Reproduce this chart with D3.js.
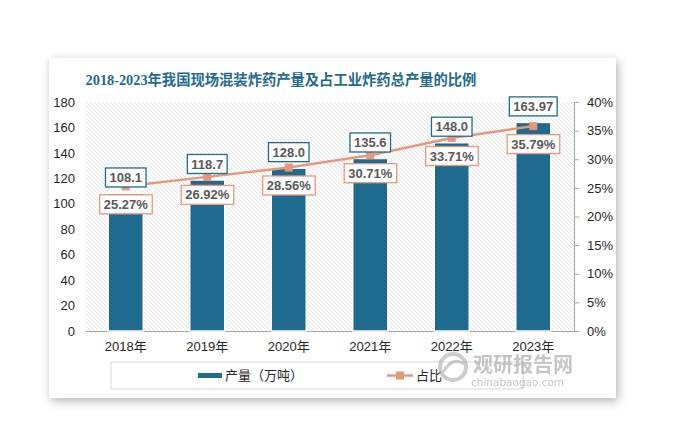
<!DOCTYPE html>
<html><head><meta charset="utf-8">
<script src="https://cdn.jsdelivr.net/npm/d3@7"></script>
<style>html,body{margin:0;padding:0;background:#fff;}svg{display:block;}</style>
</head><body>
<svg id="chart" width="673" height="445"></svg>
<script>
const categories = ["2018年","2019年","2020年","2021年","2022年","2023年"];
const production = [108.1, 118.7, 128.0, 135.6, 148.0, 163.97];
const productionLabels = ["108.1","118.7","128.0","135.6","148.0","163.97"];
const share = [25.27, 26.92, 28.56, 30.71, 33.71, 35.79];
const leftTicks = [0,20,40,60,80,100,120,140,160,180];
const rightTicks = [0,5,10,15,20,25,30,35,40];
const title = "2018-2023年我国现场混装炸药产量及占工业炸药总产量的比例";
const legendNames = ["产量（万吨）","占比"];

const barColor = "#1e6b8f", lineColor = "#e9977a", textColor = "#595959";
const svg = d3.select("#chart");
const defs = svg.append("defs");
const sh = defs.append("filter").attr("id","shadow").attr("x","-10%").attr("y","-10%").attr("width","120%").attr("height","120%");
sh.append("feDropShadow").attr("dx",2).attr("dy",3).attr("stdDeviation",5).attr("flood-color","#000").attr("flood-opacity",0.3);
const pat = defs.append("pattern").attr("id","hatch").attr("patternUnits","userSpaceOnUse").attr("width",4).attr("height",4);
pat.append("rect").attr("width",4).attr("height",4).attr("fill","#fff");
pat.append("path").attr("d","M-1,-1 L5,5 M-1,3 L1,5 M3,-1 L5,1").attr("stroke","#e0e0e0").attr("stroke-width",0.9);

// card
svg.append("rect").attr("x",49).attr("y",58).attr("width",567).attr("height",340).attr("fill","#fff").attr("filter","url(#shadow)");

const m = {left:85, right:574, top:102, bottom:331};
const x = d3.scaleBand().domain(categories).range([m.left, m.right]);
const yL = d3.scaleLinear().domain([0,180]).range([m.bottom, m.top]);
const yR = d3.scaleLinear().domain([0,40]).range([m.bottom, m.top]);

svg.append("rect").attr("x",m.left).attr("y",m.top).attr("width",m.right-m.left).attr("height",m.bottom-m.top).attr("fill","url(#hatch)");

svg.append("text").attr("x",281).attr("y",85).attr("text-anchor","middle")
  .attr("font-family","'Liberation Serif','Noto Sans CJK SC',serif").attr("font-weight","bold")
  .attr("font-size",14.3).attr("fill","#236a8c").text(title);

// left axis
const gL = svg.append("g").attr("transform",`translate(${m.left},0)`)
  .call(d3.axisLeft(yL).tickValues(leftTicks).tickSize(0).tickPadding(10));
gL.select(".domain").remove();
gL.selectAll("text").attr("font-family","'Liberation Sans',Arial,sans-serif").attr("font-size",13).attr("fill","#262626");

// right axis
const gR = svg.append("g").attr("transform",`translate(${m.right},0)`)
  .call(d3.axisRight(yR).tickValues(rightTicks).tickSize(5).tickPadding(8).tickFormat(d=>d+"%"));
gR.select(".domain").attr("stroke","#a6a6a6");
gR.selectAll("line").attr("stroke","#a6a6a6");
gR.selectAll("text").attr("font-family","'Liberation Sans',Arial,sans-serif").attr("font-size",13).attr("fill","#262626");

// bottom axis
const gB = svg.append("g").attr("transform",`translate(0,${m.bottom})`)
  .call(d3.axisBottom(x).tickSize(0).tickPadding(11));
gB.select(".domain").attr("stroke","#a6a6a6");
gB.selectAll("text").attr("font-family","'Liberation Sans','Noto Sans CJK SC',sans-serif").attr("font-size",13).attr("fill","#262626");

// bars
const bw = 35;
svg.append("g").selectAll("rect").data(production).join("rect")
  .attr("x",(d,i)=>x(categories[i])+x.bandwidth()/2-bw/2)
  .attr("y",d=>yL(d)).attr("width",bw).attr("height",d=>m.bottom-yL(d))
  .attr("fill",barColor).attr("stroke","#fff").attr("stroke-width",1.5);

// line
const cx = i => x(categories[i])+x.bandwidth()/2;
svg.append("path").datum(share)
  .attr("d",d3.line().x((d,i)=>cx(i)).y(d=>yR(d)))
  .attr("fill","none").attr("stroke",lineColor).attr("stroke-width",2.5);
svg.append("g").selectAll("rect").data(share).join("rect")
  .attr("x",(d,i)=>cx(i)-4).attr("y",d=>yR(d)-4).attr("width",8).attr("height",8).attr("fill",lineColor);

// labels
function label(g, xc, yc, txt, border){
  const t = g.append("text").attr("x",xc).attr("y",yc).attr("dy","0.35em").attr("text-anchor","middle")
    .attr("font-family","'Liberation Sans',Arial,sans-serif").attr("font-weight","bold").attr("font-size",13)
    .attr("fill",textColor).text(txt);
  const bb = t.node().getBBox();
  g.insert("rect","text").attr("x",bb.x-4).attr("y",yc-9.5).attr("width",bb.width+8).attr("height",19)
    .attr("fill","#fff").attr("stroke",border).attr("stroke-width",1.3);
}
share.forEach((d,i)=>{ const g=svg.append("g"); label(g,cx(i),yR(d)+18,d.toFixed(2)+"%",lineColor); });
production.forEach((d,i)=>{ const g=svg.append("g"); label(g,cx(i),yL(d)-16,productionLabels[i],barColor); });

// legend
svg.append("rect").attr("x",111).attr("y",362).attr("width",412).attr("height",27).attr("fill","#fff").attr("stroke","#d9d9d9");
svg.append("rect").attr("x",198).attr("y",373).attr("width",24).attr("height",5).attr("fill",barColor);
svg.append("text").attr("x",225).attr("y",380).attr("font-family","'Noto Sans CJK SC',sans-serif").attr("font-size",13).attr("fill","#262626").text(legendNames[0]);
svg.append("line").attr("x1",387).attr("x2",413).attr("y1",375.5).attr("y2",375.5).attr("stroke",lineColor).attr("stroke-width",2.5);
svg.append("rect").attr("x",396).attr("y",371.5).attr("width",8).attr("height",8).attr("fill",lineColor);
svg.append("text").attr("x",416).attr("y",380).attr("font-family","'Noto Sans CJK SC',sans-serif").attr("font-size",13).attr("fill","#262626").text(legendNames[1]);

// watermark
const wm = svg.append("g").attr("opacity",0.5);
wm.append("circle").attr("cx",453).attr("cy",367).attr("r",13).attr("fill","none").attr("stroke","#9a9a9a").attr("stroke-width",4);
wm.append("path").attr("d","M443,372 Q453,356 464,364").attr("fill","none").attr("stroke","#9a9a9a").attr("stroke-width",3);
wm.append("text").attr("x",473).attr("y",372).attr("font-family","'Noto Sans CJK SC',sans-serif").attr("font-weight","bold").attr("font-size",20).attr("fill","#8c8c8c").text("观研报告网");
wm.append("text").attr("x",471).attr("y",386).attr("font-family","'DejaVu Sans',sans-serif").attr("font-size",10.5).attr("fill","#8c8c8c").text("chinabaogao.com");
</script>
</body></html>
